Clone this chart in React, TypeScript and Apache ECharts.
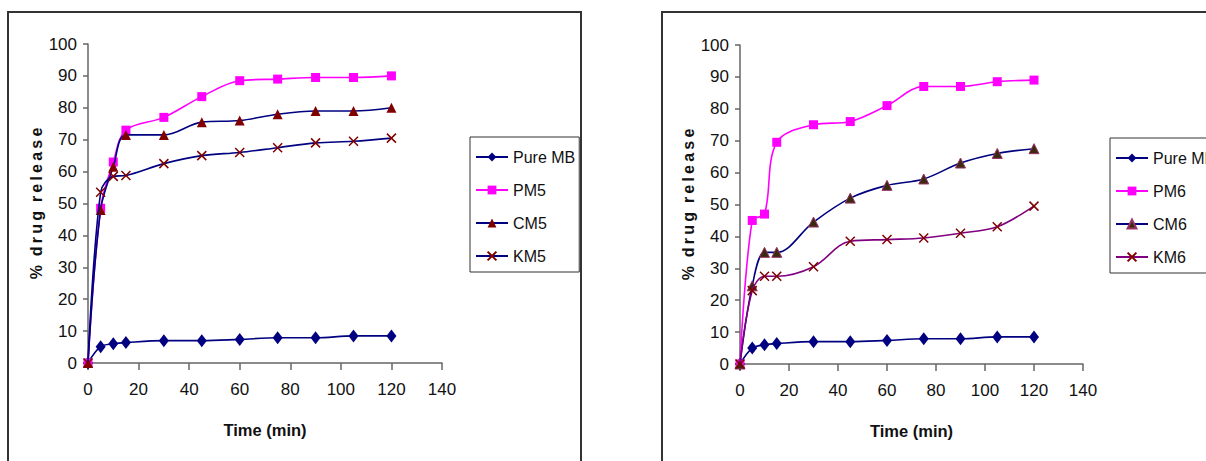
import React, { useEffect, useRef } from "react";
import * as echarts from "echarts";

const TIME = [0, 5, 10, 15, 30, 45, 60, 75, 90, 105, 120];
const PURE_MB_1 = [0, 5.1, 6, 6.4, 7, 7, 7.4, 7.9, 7.9, 8.5, 8.5];
const PM5 = [0, 48.5, 63, 73, 77, 83.5, 88.5, 89, 89.5, 89.5, 90];
const CM5 = [0, 48, 61.5, 71.5, 71.5, 75.5, 76, 78, 79, 79, 80];
const KM5 = [0, 53.5, 58.5, 58.8, 62.5, 65, 66, 67.5, 69, 69.5, 70.5];
const PURE_MB_2 = [0, 5, 6, 6.4, 7, 7, 7.4, 7.9, 7.9, 8.5, 8.5];
const PM6 = [0, 45, 47, 69.5, 75, 76, 81, 87, 87, 88.5, 89];
const CM6 = [0, 24.5, 35, 35, 44.5, 52, 56, 58, 63, 66, 67.5];
const KM6 = [0, 23, 27.5, 27.5, 30.5, 38.5, 39, 39.5, 41, 43, 49.5];

const LEGEND_1 = ["Pure MB", "PM5", "CM5", "KM5"];
const LEGEND_2 = ["Pure MB ", "PM6", "CM6", "KM6"];

const X_NAME = "Time (min)";
const Y_NAME = "%  d\u2009r\u2009u\u2009g  r\u2009e\u2009l\u2009e\u2009a\u2009s\u2009e";

const FONT = "'Liberation Sans', Arial, sans-serif";
const NAVY = "#000080";
const MAGENTA = "#FF00FF";
const MAROON = "#800000";
const PURPLE = "#800080";
const X_SYMBOL = "path://M0,0L10,10M10,0L0,10";

const pairs = (vals: number[]) => TIME.map((t, i) => [t, vals[i]]);

function makeAxes(idx: number, gap: number) {
  const axisLine = { lineStyle: { color: "#666", width: 1.5 } };
  return {
    x: {
      type: "value",
      gridIndex: idx,
      min: 0,
      max: 140,
      interval: 20,
      splitLine: { show: false },
      axisLine,
      axisTick: { show: true, length: 7, lineStyle: { color: "#666", width: 1.5 } },
      axisLabel: { color: "#111", fontFamily: FONT, fontSize: 17, margin: 18 },
      name: X_NAME,
      nameLocation: "middle",
      nameGap: 58,
      nameTextStyle: { color: "#111", fontFamily: FONT, fontSize: 16.5, fontWeight: "bold" },
    },
    y: {
      type: "value",
      gridIndex: idx,
      min: 0,
      max: 100,
      interval: 10,
      splitLine: { show: false },
      axisLine: { show: true, ...axisLine },
      axisTick: { show: true, length: 5, lineStyle: { color: "#666", width: 1.5 } },
      axisLabel: { color: "#111", fontFamily: FONT, fontSize: 17, margin: 11 },
      name: Y_NAME,
      nameLocation: "middle",
      nameGap: gap,
      nameTextStyle: { color: "#111", fontFamily: FONT, fontSize: 16, fontWeight: "bold" },
    },
  };
}

function legendFor(names: string[], left: number, top: number) {
  return {
    data: names,
    orient: "vertical",
    left,
    top,
    padding: [12, 4, 8, 5],
    itemGap: 17,
    itemWidth: 32,
    itemHeight: 11,
    borderColor: "#333",
    borderWidth: 1,
    backgroundColor: "#fff",
    textStyle: { color: "#111", fontFamily: FONT, fontSize: 16 },
  };
}

export default function App() {
  const ref = useRef<HTMLDivElement>(null);
  useEffect(() => {
    if (!ref.current) return;
    const chart = echarts.init(ref.current, undefined, { renderer: "svg" });
    const a1 = makeAxes(0, 38);
    const a2 = makeAxes(1, 36);
    const line = (name: string, data: number[], idx: number, lineColor: string, symbol: string, symbolSize: any, itemStyle: any, z: number) => ({
      type: "line",
      name,
      xAxisIndex: idx,
      yAxisIndex: idx,
      data: pairs(data),
      smooth: 0.35,
      symbol,
      symbolSize,
      showSymbol: true,
      lineStyle: { color: lineColor, width: 1.6 },
      itemStyle,
      z,
    });
    const xStyle = { color: MAROON, borderColor: MAROON, borderWidth: 1.5 };
    chart.setOption({
      animation: false,
      backgroundColor: "#fff",
      grid: [
        { left: 88, top: 44, width: 354, height: 319 },
        { left: 740, top: 45, width: 343, height: 319 },
      ],
      xAxis: [a1.x, a2.x],
      yAxis: [a1.y, a2.y],
      legend: [legendFor(LEGEND_1, 470, 137), legendFor(LEGEND_2, 1110, 138)],
      graphic: [
        { type: "rect", shape: { x: 8, y: 12, width: 573, height: 480 }, style: { fill: "none", stroke: "#333", lineWidth: 2 }, z: -1 },
        { type: "rect", shape: { x: 662, y: 12, width: 600, height: 480 }, style: { fill: "none", stroke: "#333", lineWidth: 2 }, z: -1 },
      ],
      series: [
        line("Pure MB", PURE_MB_1, 0, NAVY, "diamond", [10, 13], { color: NAVY }, 2),
        line("PM5", PM5, 0, MAGENTA, "rect", 9, { color: MAGENTA }, 3),
        line("CM5", CM5, 0, NAVY, "triangle", [10, 10], { color: MAROON }, 4),
        line("KM5", KM5, 0, NAVY, X_SYMBOL, 9, xStyle, 5),
        line("Pure MB ", PURE_MB_2, 1, NAVY, "diamond", [10, 13], { color: NAVY }, 2),
        line("PM6", PM6, 1, MAGENTA, "rect", 9, { color: MAGENTA }, 3),
        line("CM6", CM6, 1, NAVY, "triangle", [10, 10], { color: "#3a2a10", borderColor: "#993366", borderWidth: 1 }, 4),
        line("KM6", KM6, 1, PURPLE, X_SYMBOL, 9, xStyle, 5),
      ],
    });
    return () => chart.dispose();
  }, []);
  return <div ref={ref} style={{ position: "fixed", left: 0, top: 0, width: 1206, height: 461 }} />;
}
